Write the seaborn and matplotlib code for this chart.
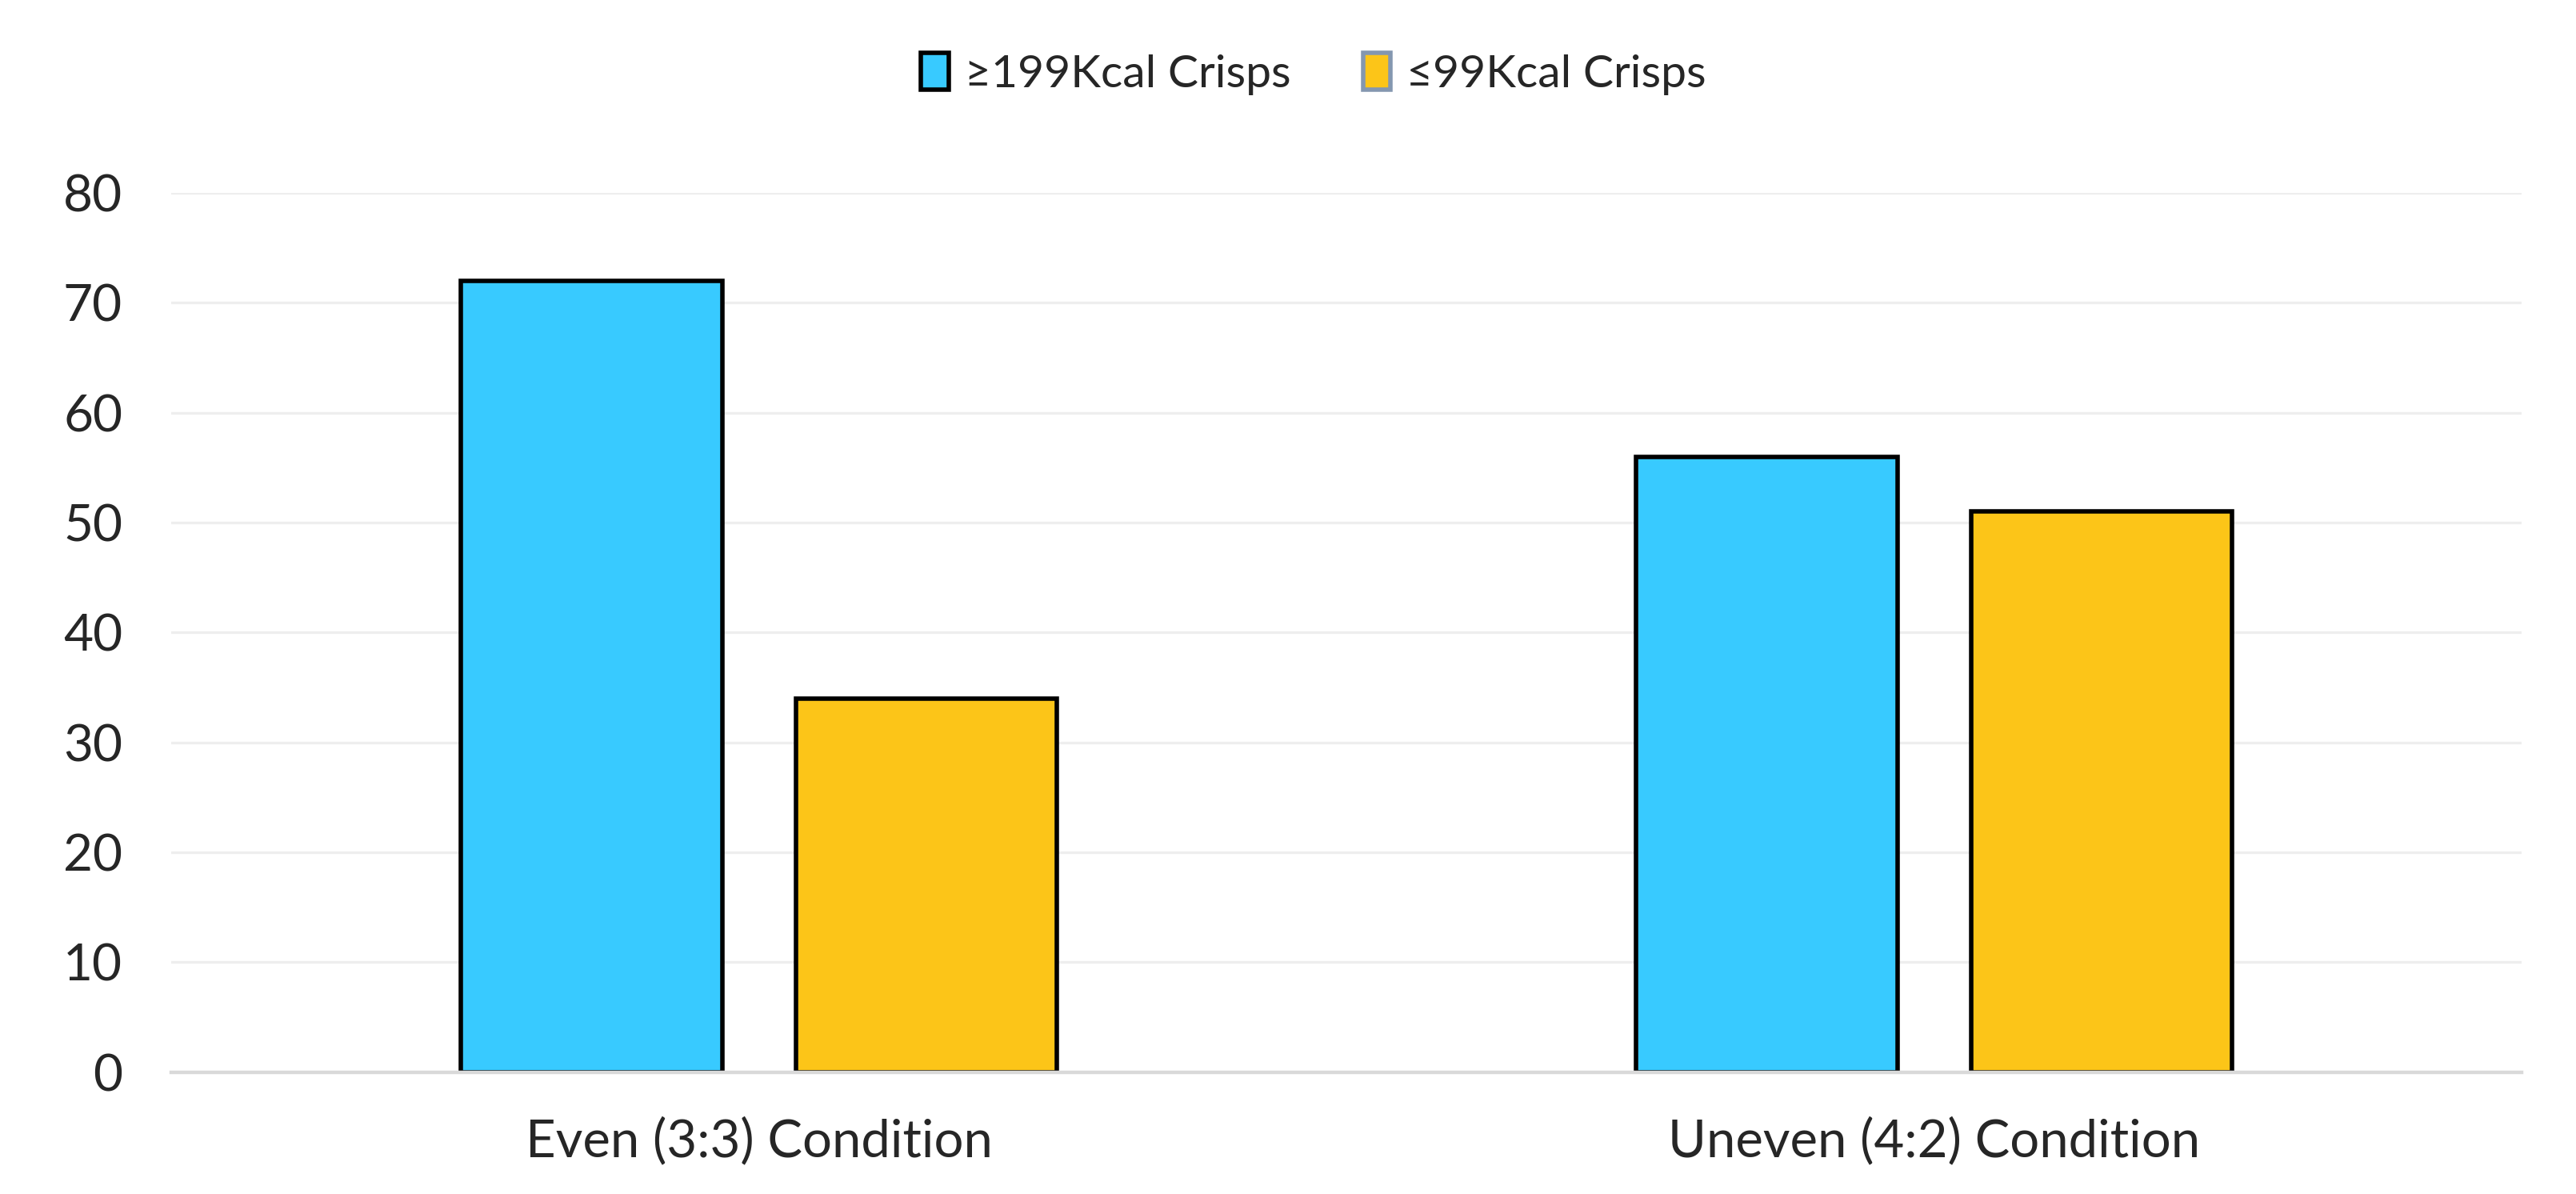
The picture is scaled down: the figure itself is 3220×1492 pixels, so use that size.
import pandas as pd
import seaborn as sns
import matplotlib.pyplot as plt
from matplotlib.patches import Patch

# dados
conditions = ['Even (3:3) Condition', 'Uneven (4:2) Condition']
series = ['≥199Kcal Crisps', '≤99Kcal Crisps']
high_kcal = [72, 56]
low_kcal = [34, 51]
yticks = [0, 10, 20, 30, 40, 50, 60, 70, 80]

df = pd.DataFrame({
    'Condition': conditions * 2,
    'Crisps': [series[0]] * 2 + [series[1]] * 2,
    'Value': high_kcal + low_kcal,
})

blue = '#38CAFF'
yellow = '#FCC518'

sns.set_style('white')
plt.rcParams['font.family'] = ['Lato', 'DejaVu Sans']

fig = plt.figure(figsize=(16.1, 7.46), dpi=200)
ax = fig.add_axes([0.0665, 0.102, 0.9125, 0.7365])

sns.barplot(data=df, x='Condition', y='Value', hue='Crisps',
            palette=[blue, yellow], saturation=1, width=0.57, gap=0.22,
            edgecolor='black', linewidth=2.0, ax=ax, legend=False)

ax.set_ylim(0, 80)
ax.set_xlim(-0.5, 1.5)
ax.set_yticks(yticks)
ax.yaxis.grid(True, color='#eeeeee', linewidth=1.2)
ax.set_axisbelow(True)
for s in ['top', 'right', 'left']:
    ax.spines[s].set_visible(False)
ax.spines['bottom'].set_color('#d9d9d9')
ax.spines['bottom'].set_linewidth(1.6)
ax.tick_params(axis='y', length=0, pad=22, labelsize=23)
ax.tick_params(axis='x', length=0, pad=20, labelsize=23.5)
ax.set_xlabel('')
ax.set_ylabel('')

handles = [Patch(facecolor=blue, edgecolor='black', linewidth=2.0),
           Patch(facecolor=yellow, edgecolor='#8497b0', linewidth=2.0)]
fig.legend(handles, series, loc='upper center', bbox_to_anchor=(0.51, 0.99),
           ncol=2, frameon=False, fontsize=20.5, handlelength=0.6,
           handleheight=0.85, handletextpad=0.35, columnspacing=1.6)

fig.savefig('out.png', dpi=200)
